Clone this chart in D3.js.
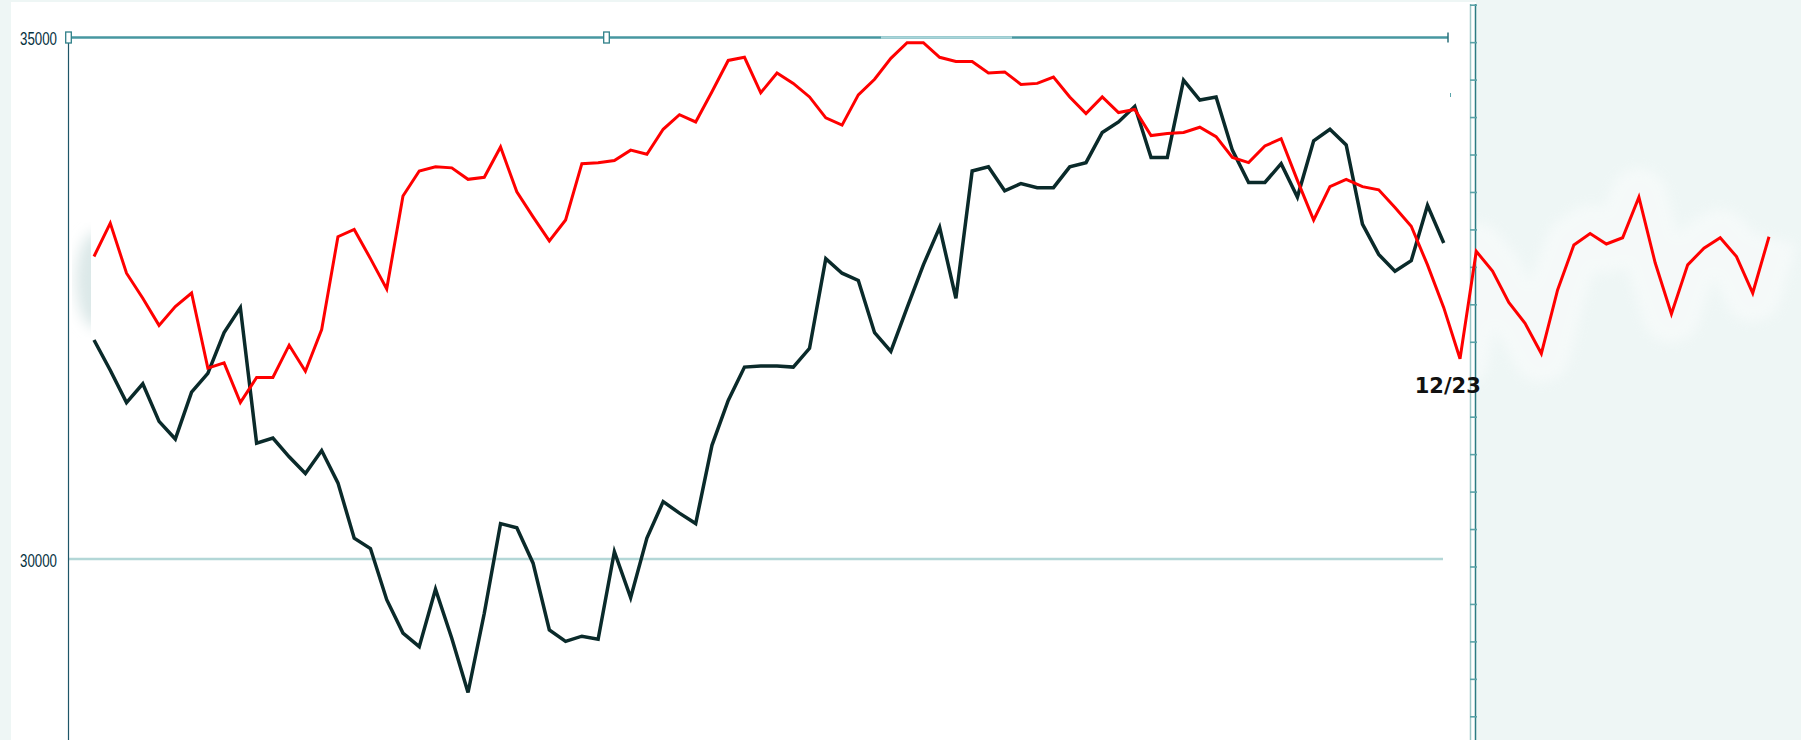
<!DOCTYPE html>
<html>
<head>
<meta charset="utf-8">
<script src="https://cdn.jsdelivr.net/npm/d3@7"></script>
<style>
  html, body { margin: 0; padding: 0; background: #eef6f5; }
  svg { display: block; }
</style>
</head>
<body>
<script>
const width = 1801, height = 740;

// index of each day on the x axis (last black point is 12/23)
const redValues = [
  32900, 33220, 32740, 32500, 32240, 32420, 32550, 31830, 31880, 31500,
  31740, 31740, 32050, 31800, 32200, 33090, 33160, 32880, 32590, 33480,
  33720, 33760, 33750, 33640, 33660, 33950, 33520, 33280, 33050, 33250,
  33790, 33800, 33820, 33920, 33880, 34120, 34260, 34190, 34480, 34780,
  34810, 34470, 34660, 34560, 34430, 34230, 34160, 34450, 34600, 34800,
  34950, 34950, 34810, 34770, 34770, 34660, 34670, 34550, 34560, 34620,
  34430, 34270, 34430, 34280, 34310, 34060, 34080, 34090, 34140, 34050,
  33850, 33800, 33960, 34030, 33630, 33250, 33570, 33640, 33570, 33540,
  33370, 33190, 32820, 32410, 31920, 32950, 32760, 32460, 32260, 31970,
  32580, 33010, 33120, 33020, 33080, 33470, 32840, 32350, 32820, 32980,
  33080, 32900, 32550, 33090
];
const blackValues = [
  32100, 31810, 31500, 31680, 31320, 31150, 31600, 31780, 32170, 32410,
  31110, 31160, 30980, 30820, 31040, 30730, 30200, 30100, 29610, 29290,
  29160, 29710, 29240, 28720, 29480, 30340, 30300, 29960, 29320, 29210,
  29260, 29230, 30070, 29630, 30200, 30550, 30440, 30340, 31090, 31520,
  31840, 31850, 31850, 31840, 32020, 32880, 32740, 32670, 32170, 31990,
  32410, 32820, 33180, 32500, 33720, 33760, 33530, 33600, 33560, 33560,
  33760, 33800, 34090, 34190, 34340, 33850, 33850, 34590, 34400, 34430,
  33920, 33610, 33610, 33790, 33470, 34010, 34120, 33970, 33210, 32920,
  32760, 32860, 33390, 33030
];
const dayIndex = d3.range(redValues.length);
const yTicks = [30000, 35000];
const dateLabels = [{ index: 83, text: '12/23' }];
const rightTicks = d3.range(0, 20);

const svg = d3.select('body').append('svg')
    .attr('width', width)
    .attr('height', height);

const defs = svg.append('defs');
defs.append('filter').attr('id', 'soft')
    .attr('x', '-20%').attr('y', '-50%').attr('width', '140%').attr('height', '200%')
  .append('feGaussianBlur').attr('stdDeviation', 6);
defs.append('filter').attr('id', 'shade')
  .append('feGaussianBlur').attr('stdDeviation', 7);
defs.append('clipPath').attr('id', 'rightPanel')
  .append('rect').attr('x', 1477).attr('y', 0).attr('width', 330).attr('height', height);
defs.append('clipPath').attr('id', 'leftStrip')
  .append('rect').attr('x', 68).attr('y', 0).attr('width', 23).attr('height', height);

const x = d3.scaleLinear().domain([0, dayIndex.length - 1]).range([94, 1769]);
const y = d3.scaleLinear().domain([30000, 35000]).range([559, 37.5]);
const r = d3.scaleLinear().domain([0, 19]).range([5.2, 716.8]);

// panels
svg.append('rect').attr('x', 11).attr('y', 2).attr('width', 1465).attr('height', height)
    .attr('fill', '#ffffff');
svg.append('rect').attr('x', 1476).attr('y', 0).attr('width', width - 1476).attr('height', height)
    .attr('fill', '#eef6f5');

const line = d3.line().x((d, i) => x(i)).y(d => y(d));
const offset = 83;

// light wave behind the forecast part
svg.append('g').attr('clip-path', 'url(#rightPanel)')
  .append('path')
    .datum(redValues.slice(offset))
    .attr('d', d3.line().x((d, i) => x(i + offset)).y(d => y(d)))
    .attr('fill', 'none')
    .attr('stroke', '#ffffff')
    .attr('stroke-width', 58)
    .attr('stroke-linejoin', 'round')
    .attr('opacity', 0.42)
    .attr('filter', 'url(#soft)');

// faint shadow near the left edge
svg.append('g').attr('clip-path', 'url(#leftStrip)')
  .append('ellipse')
    .attr('cx', 96).attr('cy', 280).attr('rx', 20).attr('ry', 48)
    .attr('fill', '#dbe8e8')
    .attr('filter', 'url(#shade)');

// grid line at 30000
svg.append('line')
    .attr('x1', 68).attr('x2', 1443)
    .attr('y1', y(30000)).attr('y2', y(30000))
    .attr('stroke', '#b3d7d7').attr('stroke-width', 2.5);

// top band line at 35000
svg.append('line')
    .attr('x1', 68).attr('x2', 1448)
    .attr('y1', y(35000)).attr('y2', y(35000))
    .attr('stroke', '#4797a0').attr('stroke-width', 2.5);
svg.append('line')
    .attr('x1', 881).attr('x2', 1012)
    .attr('y1', y(35000)).attr('y2', y(35000))
    .attr('stroke', '#a9d5d9').attr('stroke-width', 2.5);
svg.append('line')
    .attr('x1', 1448).attr('x2', 1448)
    .attr('y1', y(35000) - 5).attr('y2', y(35000) + 5)
    .attr('stroke', '#2a6f7a').attr('stroke-width', 1.5);
svg.append('line')
    .attr('x1', 1450.5).attr('x2', 1450.5).attr('y1', 93).attr('y2', 97)
    .attr('stroke', '#5aa5ab').attr('stroke-width', 1);

// left axis
svg.append('line')
    .attr('x1', 68.5).attr('x2', 68.5)
    .attr('y1', y(35000)).attr('y2', height)
    .attr('stroke', '#1e5668').attr('stroke-width', 1.2);

[68.5, 606.5].forEach(cx => {
  svg.append('rect')
      .attr('x', cx - 2.8).attr('y', y(35000) - 5.5)
      .attr('width', 5.6).attr('height', 11)
      .attr('fill', '#ffffff').attr('stroke', '#2e7f88').attr('stroke-width', 1.3);
});

svg.selectAll('.ylab')
  .data(yTicks)
  .join('g')
    .attr('class', 'ylab')
    .attr('transform', d => `translate(57,${y(d) + 7.5})`)
  .append('text')
    .attr('transform', 'scale(0.74,1)')
    .attr('text-anchor', 'end')
    .attr('font-family', 'Liberation Sans, Arial, sans-serif')
    .attr('font-size', 18)
    .attr('fill', '#07323f')
    .text(d => d);

// right axis: double rule with ticks
svg.append('line')
    .attr('x1', 1470.5).attr('x2', 1470.5).attr('y1', 4).attr('y2', height)
    .attr('stroke', '#9cc6c6').attr('stroke-width', 1.5);
svg.append('line')
    .attr('x1', 1475.5).attr('x2', 1475.5).attr('y1', 4).attr('y2', height)
    .attr('stroke', '#2b7b82').attr('stroke-width', 1.5);
svg.selectAll('.rtick')
  .data(rightTicks)
  .join('line')
    .attr('class', 'rtick')
    .attr('x1', 1470).attr('x2', 1477)
    .attr('y1', d => r(d)).attr('y2', d => r(d))
    .attr('stroke', '#5aa3a8').attr('stroke-width', 1.6);

// series
svg.append('path')
    .datum(blackValues)
    .attr('d', line)
    .attr('fill', 'none')
    .attr('stroke', '#0a2a2a')
    .attr('stroke-width', 3.5);

svg.append('path')
    .datum(redValues)
    .attr('d', line)
    .attr('fill', 'none')
    .attr('stroke', '#ff0000')
    .attr('stroke-width', 3);

svg.selectAll('.dlab')
  .data(dateLabels)
  .join('text')
    .attr('class', 'dlab')
    .attr('x', d => x(d.index) + 4)
    .attr('y', 393)
    .attr('text-anchor', 'middle')
    .attr('font-family', 'DejaVu Sans, Verdana, sans-serif')
    .attr('font-weight', 'bold')
    .attr('font-size', 21)
    .attr('fill', '#111111')
    .text(d => d.text);
</script>
</body>
</html>
